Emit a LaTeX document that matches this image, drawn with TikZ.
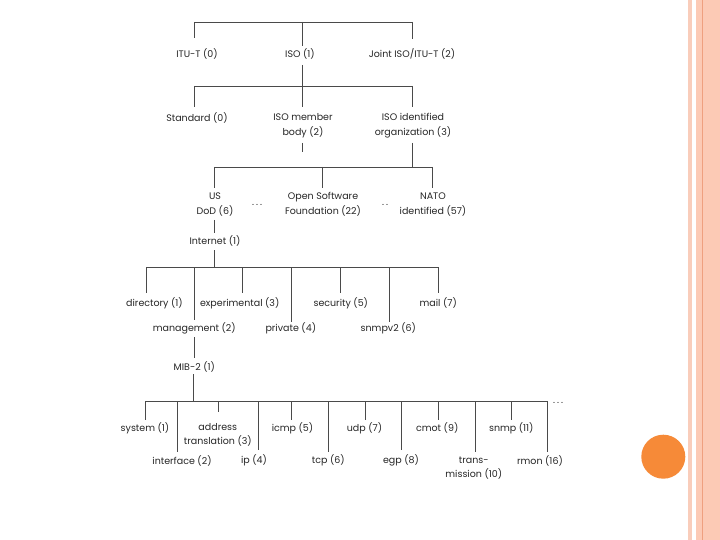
\documentclass[tikz,border=0pt]{standalone}
\usepackage{fontspec}
\setmainfont{Poppins}
\definecolor{linec}{HTML}{4A4A4A}
\definecolor{txt}{HTML}{262626}
\definecolor{stripeA}{HTML}{F9CDBB}
\definecolor{stripeB}{HTML}{FCCAB5}
\definecolor{stripeC}{HTML}{EFA07F}
\definecolor{dotc}{HTML}{F68A38}
\newcommand{\mydots}{.\hspace{2pt}.\hspace{2pt}.}
\newcommand{\mytwodots}{.\hspace{2pt}.}
\tikzset{
  lbl/.style={font=\fontsize{9.5}{14.5}\selectfont, text=txt, inner sep=0.5pt, align=center},
  conn/.style={draw=linec, line width=0.8pt}
}
\begin{document}
\begin{tikzpicture}[x=1pt,y=-1pt]
\useasboundingbox (0,0) rectangle (720,540);
\fill[white] (0,0) rectangle (720,540);
% right border stripes
\fill[stripeA] (688,0) rectangle (692,540);
\fill[stripeB] (696,0) rectangle (720,540);
\draw[stripeC, line width=1.4pt] (702.5,0) -- (702.5,540);
\fill[dotc] (663.3,456.7) circle (22);

% ---------- level 1
\node[lbl] (itut)  at (197,54) {ITU-T (0)};
\node[lbl] (iso)   at (300,54) {ISO (1)};
\node[lbl] (joint) at (412,54) {Joint ISO/ITU-T (2)};
\coordinate (b0L) at (194,22);
\coordinate (b0R) at (412.7,22);
\draw[conn] (b0L) -- (b0R);
\draw[conn] (b0L) -- (194,38);
\draw[conn] (302.5,22) -- (302.5,46);
\draw[conn] (b0R) -- (412.7,39);

% ---------- level 2
\node[lbl] (std)    at (197,118) {Standard (0)};
\node[lbl] (member) at (303,125.5) {ISO member\\body (2)};
\node[lbl] (ident)  at (413,125.5) {ISO identified\\organization (3)};
\coordinate (b1L) at (194,86);
\coordinate (b1R) at (412.5,86);
\draw[conn] (b1L) -- (b1R);
\draw[conn] (302.5,65) -- (302.5,107);
\draw[conn] (b1L) -- (194,107);
\draw[conn] (b1R) -- (412.5,107);
\draw[conn] (302.5,143) -- (302.5,152);

% ---------- level 3
\node[lbl] (usdod) at (215,204.5) {US\\DoD (6)};
\node[lbl] (osf)   at (323,204.5) {Open Software\\Foundation (22)};
\node[lbl] (nato)  at (433,204.5) {NATO\\identified (57)};
\node[lbl, anchor=base] (dA) at (257,206) {\mydots};
\node[lbl, anchor=base] (dB) at (385,206) {\mytwodots};
\coordinate (b2L) at (214.3,167);
\coordinate (b2R) at (432.7,167);
\draw[conn] (412.5,143) -- (412.5,167);
\draw[conn] (b2L) -- (b2R);
\draw[conn] (b2L) -- (214.3,188);
\draw[conn] (322.7,167) -- (322.7,188);
\draw[conn] (b2R) -- (432.7,188);

% ---------- internet
\node[lbl] (inet) at (215,241) {Internet (1)};
\draw[conn] (214.3,220) -- (214.3,233);
\draw[conn] (214.3,250) -- (214.3,267);
\coordinate (b3L) at (146,267);
\coordinate (b3R) at (438.3,267);
\draw[conn] (b3L) -- (b3R);
\draw[conn] (b3L) -- (146,293);
\draw[conn] (194,267) -- (194,320);
\draw[conn] (242.7,267) -- (242.7,293);
\draw[conn] (291.7,267) -- (291.7,321.5);
\draw[conn] (340.7,267) -- (340.7,293);
\draw[conn] (389.3,267) -- (389.3,321.5);
\draw[conn] (b3R) -- (438.3,293);

\node[lbl] (dir)  at (154.5,303) {directory (1)};
\node[lbl] (exp)  at (239.7,303) {experimental (3)};
\node[lbl] (sec)  at (340.8,303) {security (5)};
\node[lbl] (mail) at (438.3,303) {mail (7)};
\node[lbl] (mgmt) at (194.3,328) {management (2)};
\node[lbl] (priv) at (290.8,328) {private (4)};
\node[lbl] (snv2) at (388.3,328) {snmpv2 (6)};

% ---------- MIB-2
\node[lbl] (mib) at (194.3,366.7) {MIB-2 (1)};
\draw[conn] (194,337) -- (194,358);
\draw[conn] (193.5,374) -- (193.5,401);
\coordinate (b4L) at (145.7,401);
\coordinate (b4R) at (547.7,401);
\draw[conn] (b4L) -- (b4R);
\draw[conn] (b4L) -- (145.7,420);
\draw[conn] (177.3,401) -- (177.3,451.5);
\draw[conn] (218.3,401) -- (218.3,412);
\draw[conn] (258.3,401) -- (258.3,450);
\draw[conn] (291.7,401) -- (291.7,420);
\draw[conn] (328.3,401) -- (328.3,451.5);
\draw[conn] (365.7,401) -- (365.7,420);
\draw[conn] (401.7,401) -- (401.7,450);
\draw[conn] (438.3,401) -- (438.3,420);
\draw[conn] (475.7,401) -- (475.7,451.5);
\draw[conn] (511.7,401) -- (511.7,420);
\draw[conn] (b4R) -- (547.7,451.5);
\node[lbl, anchor=base] (dC) at (558,403) {\mydots};

\node[lbl] (sys)   at (145,428) {system (1)};
\node[lbl] (addr)  at (217.8,435) {address\\translation (3)};
\node[lbl] (icmp)  at (292.5,428) {icmp (5)};
\node[lbl] (udp)   at (364.5,428) {udp (7)};
\node[lbl] (cmot)  at (437.2,428) {cmot (9)};
\node[lbl] (snmp)  at (511.3,428) {snmp (11)};
\node[lbl] (intf)  at (182,460.7) {interface (2)};
\node[lbl] (ip)    at (254,460.7) {ip (4)};
\node[lbl] (tcp)   at (328.3,460.7) {tcp (6)};
\node[lbl] (egp)   at (401,460.7) {egp (8)};
\node[lbl] (trans) at (473.8,468) {trans-\\mission (10)};
\node[lbl] (rmon)  at (540,460.7) {rmon (16)};
\end{tikzpicture}
\end{document}
